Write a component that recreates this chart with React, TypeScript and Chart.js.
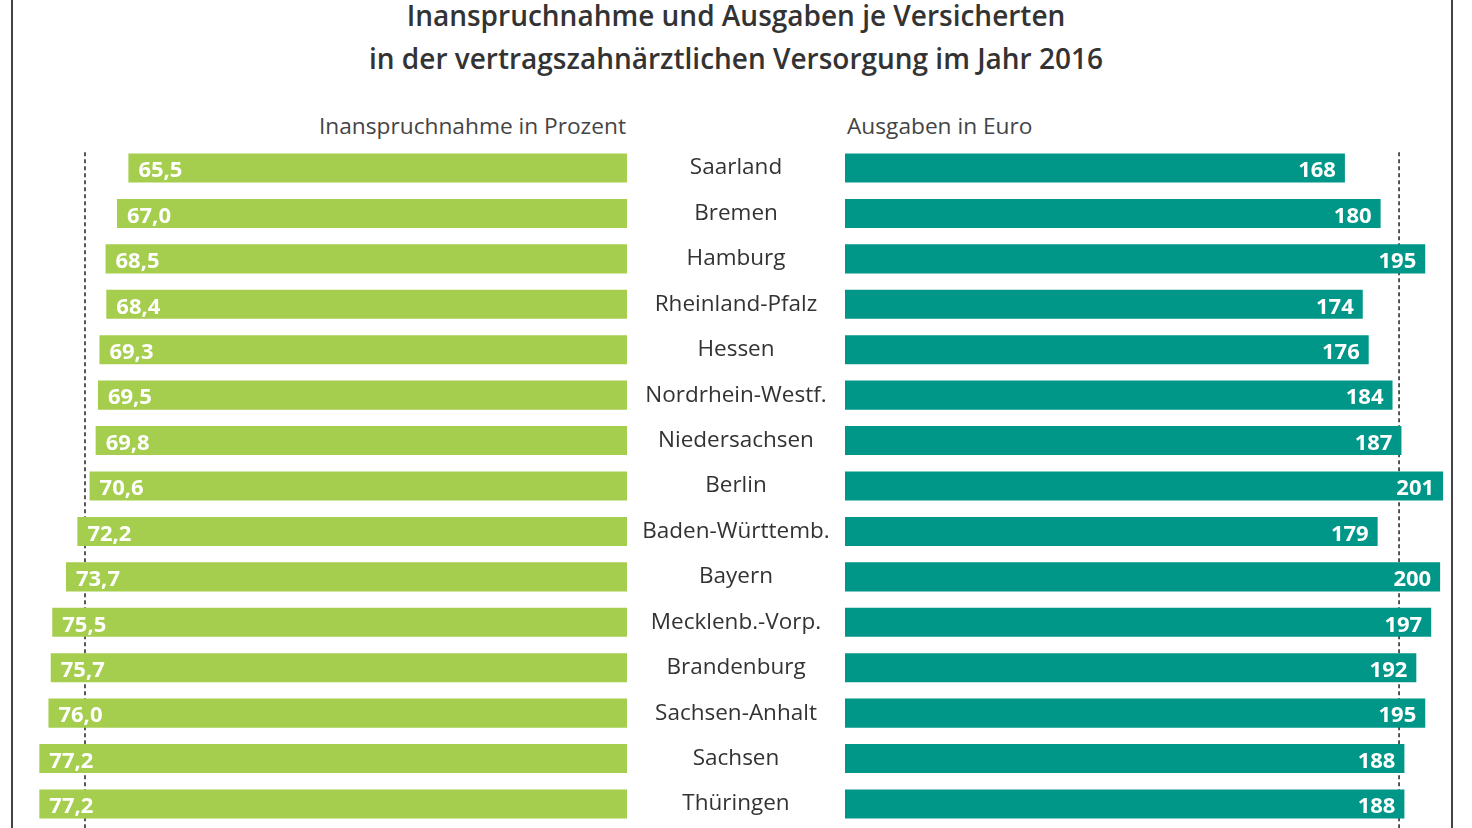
import React, { useEffect, useRef } from "react";
import { Chart, registerables } from "chart.js";

Chart.register(...registerables);

const states = [
  "Saarland",
  "Bremen",
  "Hamburg",
  "Rheinland-Pfalz",
  "Hessen",
  "Nordrhein-Westf.",
  "Niedersachsen",
  "Berlin",
  "Baden-Württemb.",
  "Bayern",
  "Mecklenb.-Vorp.",
  "Brandenburg",
  "Sachsen-Anhalt",
  "Sachsen",
  "Thüringen",
];
const usagePercent = [65.5, 67.0, 68.5, 68.4, 69.3, 69.5, 69.8, 70.6, 72.2, 73.7, 75.5, 75.7, 76.0, 77.2, 77.2];
const spendingEuro = [168, 180, 195, 174, 176, 184, 187, 201, 179, 200, 197, 192, 195, 188, 188];
const usageAverage = 71.2;
const spendingAverage = 186.2;

const titleLines = [
  "Inanspruchnahme und Ausgaben je Versicherten",
  "in der vertragszahnärztlichen Versorgung im Jahr 2016",
];
const leftHeader = "Inanspruchnahme in Prozent";
const rightHeader = "Ausgaben in Euro";

const GREEN = "#a6ce4e";
const TEAL = "#009688";
const FONT = '"Open Sans", sans-serif';

const fmtPercent = (v: number) => v.toFixed(1).replace(".", ",");

function drawDashed(chart: any, value: number) {
  const ctx = chart.ctx;
  const x = chart.scales.x.getPixelForValue(value);
  ctx.save();
  ctx.strokeStyle = "#222";
  ctx.lineWidth = 1.5;
  ctx.setLineDash([4, 3]);
  ctx.beginPath();
  ctx.moveTo(x, chart.chartArea.top + 7);
  ctx.lineTo(x, chart.height);
  ctx.stroke();
  ctx.restore();
}

const leftPlugin = {
  id: "leftPlugin",
  beforeDatasetsDraw(chart: any) {
    drawDashed(chart, usageAverage);
  },
  afterDatasetsDraw(chart: any) {
    const ctx = chart.ctx;
    const meta = chart.getDatasetMeta(0);
    ctx.save();
    ctx.font = `bold 22px ${FONT}`;
    ctx.fillStyle = "#ffffff";
    ctx.textAlign = "left";
    ctx.textBaseline = "middle";
    meta.data.forEach((bar: any, i: number) => {
      ctx.fillText(fmtPercent(usagePercent[i]), bar.x + 10, bar.y + 3);
    });
    ctx.restore();
  },
};

const rightPlugin = {
  id: "rightPlugin",
  beforeDatasetsDraw(chart: any) {
    drawDashed(chart, spendingAverage);
  },
  afterDatasetsDraw(chart: any) {
    const ctx = chart.ctx;
    const meta = chart.getDatasetMeta(0);
    const yScale = chart.scales.y;
    ctx.save();
    ctx.font = `bold 22px ${FONT}`;
    ctx.fillStyle = "#ffffff";
    ctx.textAlign = "right";
    ctx.textBaseline = "middle";
    meta.data.forEach((bar: any, i: number) => {
      ctx.fillText(String(spendingEuro[i]), bar.x - 9, bar.y + 3);
    });
    ctx.font = `22.5px ${FONT}`;
    ctx.fillStyle = "#333333";
    ctx.textAlign = "center";
    states.forEach((s, i) => {
      ctx.fillText(s, chart.chartArea.left - 109, yScale.getPixelForValue(i));
    });
    ctx.restore();
  },
};

function baseOptions(max: number, reverse: boolean, padding: any) {
  return {
    indexAxis: "y" as const,
    responsive: false,
    animation: false as const,
    layout: { padding },
    plugins: { legend: { display: false }, tooltip: { enabled: false } },
    scales: {
      x: { display: false, min: 0, max, reverse },
      y: { display: false },
    },
  };
}

export default function App() {
  const leftRef = useRef<HTMLCanvasElement>(null);
  const rightRef = useRef<HTMLCanvasElement>(null);

  useEffect(() => {
    const left = new Chart(leftRef.current!, {
      type: "bar",
      data: {
        labels: states,
        datasets: [
          {
            data: usagePercent,
            backgroundColor: GREEN,
            categoryPercentage: 1,
            barPercentage: 0.64,
          },
        ],
      },
      options: baseOptions(80, true, { left: 18, right: 0, top: 145.3, bottom: 1.3 }) as any,
      plugins: [leftPlugin],
    });
    const right = new Chart(rightRef.current!, {
      type: "bar",
      data: {
        labels: states,
        datasets: [
          {
            data: spendingEuro,
            backgroundColor: TEAL,
            categoryPercentage: 1,
            barPercentage: 0.64,
          },
        ],
      },
      options: baseOptions(205, false, { left: 218, right: 17, top: 145.3, bottom: 1.3 }) as any,
      plugins: [rightPlugin],
    });
    return () => {
      left.destroy();
      right.destroy();
    };
  }, []);

  return (
    <div
      style={{
        position: "fixed",
        left: 0,
        top: 0,
        width: 1472,
        height: 828,
        background: "#fff",
        overflow: "hidden",
        fontFamily: FONT,
      }}
    >
      <div style={{ position: "absolute", left: 11, top: 0, width: 2, height: 828, background: "#444" }} />
      <div style={{ position: "absolute", left: 1451, top: 0, width: 2, height: 828, background: "#444" }} />
      {titleLines.map((t, i) => (
        <div
          key={i}
          style={{
            position: "absolute",
            left: 0,
            width: 1472,
            top: i === 0 ? -4 : 39,
            textAlign: "center",
            fontSize: 28,
            fontWeight: 600,
            color: "#333",
            lineHeight: "38px",
            whiteSpace: "nowrap",
          }}
        >
          {t}
        </div>
      ))}
      <div
        style={{
          position: "absolute",
          right: 1472 - 626,
          top: 111,
          fontSize: 22.7,
          color: "#444",
          lineHeight: "30px",
          whiteSpace: "nowrap",
        }}
      >
        {leftHeader}
      </div>
      <div
        style={{
          position: "absolute",
          left: 847,
          top: 111,
          fontSize: 22.7,
          color: "#444",
          lineHeight: "30px",
          whiteSpace: "nowrap",
        }}
      >
        {rightHeader}
      </div>
      <canvas
        ref={leftRef}
        width={627}
        height={828}
        style={{ position: "absolute", left: 0, top: 0, width: 627, height: 828 }}
      />
      <canvas
        ref={rightRef}
        width={845}
        height={828}
        style={{ position: "absolute", left: 627, top: 0, width: 845, height: 828 }}
      />
    </div>
  );
}
